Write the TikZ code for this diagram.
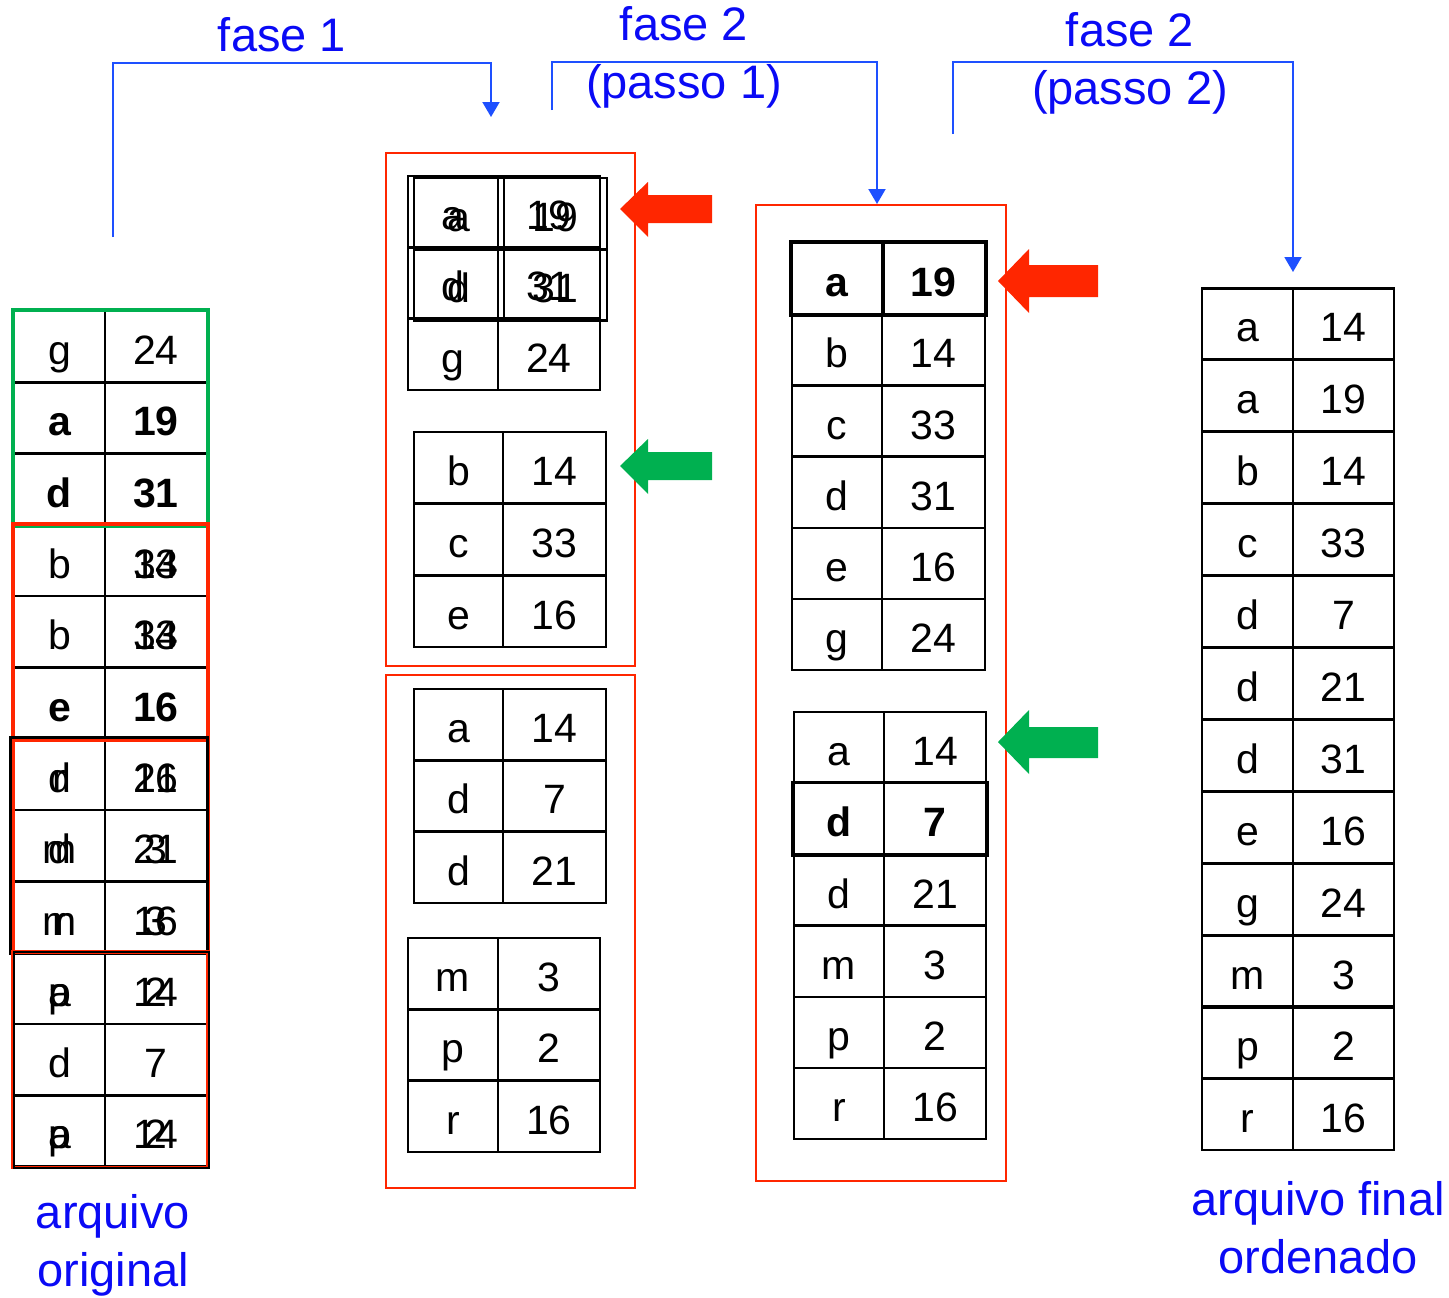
\documentclass[tikz,border=0pt]{standalone}
\usepackage{fontspec}
\setmainfont{Liberation Sans}
\usetikzlibrary{arrows.meta}

\definecolor{azul}{RGB}{30,80,255}
\definecolor{azultxt}{RGB}{10,10,245}
\definecolor{vermelho}{RGB}{255,38,0}
\definecolor{verde}{RGB}{0,176,80}

% two texts printed on top of each other
\newcommand{\dupla}[2]{\makebox[0pt]{#1}\makebox[0pt]{#2}}

\begin{document}
\begin{tikzpicture}[x=1pt, y=-1pt,
    celula/.style={draw, line width=2.2pt, inner sep=0pt, minimum height=71pt,
      text height=36pt, text depth=0pt, font=\fontsize{41}{48}\selectfont},
    fluxo/.style={azul, line width=2pt, -{Triangle[width=17pt,length=15pt]}},
    rotulo/.style={azultxt, align=center, font=\fontsize{47}{58}\selectfont},
    caixa/.style={vermelho, line width=1.6pt}]
  \useasboundingbox (0,0) rectangle (1449,1298);

  % arquivo original
  \foreach \k/\v [count=\i] in {g/24, {\bfseries a}/{\bfseries 19}, {\bfseries d}/{\bfseries 31},
      b/{\dupla{33}{14}}, b/{\dupla{33}{14}}, {\bfseries e}/{\bfseries 16},
      {\dupla{d}{r}}/{\dupla{21}{16}}, {\dupla{m}{d}}/{\dupla{21}{3}}, {\dupla{m}{r}}/{\dupla{16}{3}},
      {\dupla{p}{a}}/{\dupla{2}{14}}, d/7, {\dupla{p}{a}}/{\dupla{2}{14}}} {
    \node[celula, minimum width=91pt] (orig-k\i) at (59.5, {311+71.3*(\i-0.5)}) {\k};
    \node[celula, minimum width=102pt] (orig-v\i) at (156, {311+71.3*(\i-0.5)}) {\v};
  }
  \draw[verde, line width=4pt] (orig-k1.north west) rectangle (orig-v3.south east);
  \draw[vermelho, line width=3.5pt] (orig-k4.north west) rectangle (orig-v6.south east);
  \draw[vermelho, line width=3.5pt] (orig-k7.north west) rectangle (orig-v9.south east);
  \draw[line width=3pt] ([xshift=-2pt]orig-k7.north west) rectangle ([xshift=-1pt]orig-v9.south east);
  \draw[vermelho, line width=3.5pt] (orig-k10.north west) rectangle (orig-v12.south east);
  \draw[line width=2pt] ([xshift=1pt]orig-k10.north west) rectangle ([xshift=1pt]orig-v12.south east);

  % fase 1
  \draw[caixa] (386,153) rectangle (635,666);
  \foreach \k/\v [count=\i] in {a/19, d/31} {
    \node[celula, minimum width=90pt] (p1b-k\i) at (459, {178+71.3*(\i-0.5)}) {\k};
    \node[celula, minimum width=103pt] (p1b-v\i) at (555.5, {178+71.3*(\i-0.5)}) {\v};
  }
  \foreach \k/\v [count=\i] in {a/19, d/31, g/24} {
    \node[celula, minimum width=90pt] (p1a-k\i) at (453, {176+71.3*(\i-0.5)}) {\k};
    \node[celula, minimum width=102pt] (p1a-v\i) at (549, {176+71.3*(\i-0.5)}) {\v};
  }
  \foreach \k/\v [count=\i] in {b/14, c/33, e/16} {
    \node[celula, minimum width=89pt] (p1c-k\i) at (458.5, {432+71.7*(\i-0.5)}) {\k};
    \node[celula, minimum width=103pt] (p1c-v\i) at (554.5, {432+71.7*(\i-0.5)}) {\v};
  }
  \draw[caixa] (386,675) rectangle (635,1188);
  \foreach \k/\v [count=\i] in {a/14, d/7, d/21} {
    \node[celula, minimum width=89pt] (p1d-k\i) at (458.5, {689+71.3*(\i-0.5)}) {\k};
    \node[celula, minimum width=103pt] (p1d-v\i) at (554.5, {689+71.3*(\i-0.5)}) {\v};
  }
  \foreach \k/\v [count=\i] in {m/3, p/2, r/16} {
    \node[celula, minimum width=90pt] (p1e-k\i) at (453, {938+71.3*(\i-0.5)}) {\k};
    \node[celula, minimum width=102pt] (p1e-v\i) at (549, {938+71.3*(\i-0.5)}) {\v};
  }
  \fill[vermelho] (620,209) -- ++(28,-27) -- ++(0,13) -- ++(64,0) -- ++(0,28)
    -- ++(-64,0) -- ++(0,14) -- cycle;
  \fill[verde] (620,466) -- ++(28,-27) -- ++(0,13) -- ++(64,0) -- ++(0,28)
    -- ++(-64,0) -- ++(0,14) -- cycle;

  % fase 2, passo 1
  \draw[caixa] (756,205) rectangle (1006,1181);
  \foreach \k/\v [count=\i] in {{\bfseries a}/{\bfseries 19}, b/14, c/33, d/31, e/16, g/24} {
    \node[celula, minimum width=90pt] (p2a-k\i) at (837, {243+71.2*(\i-0.5)}) {\k};
    \node[celula, minimum width=103pt] (p2a-v\i) at (933.5, {243+71.2*(\i-0.5)}) {\v};
  }
  \draw[line width=3.5pt] (p2a-k1.north west) rectangle (p2a-v1.south east);
  \draw[line width=3.5pt] (p2a-k1.north east) -- (p2a-k1.south east);
  \foreach \k/\v [count=\i] in {a/14, {\bfseries d}/{\bfseries 7}, d/21, m/3, p/2, r/16} {
    \node[celula, minimum width=90pt] (p2b-k\i) at (839, {712+71.2*(\i-0.5)}) {\k};
    \node[celula, minimum width=102pt] (p2b-v\i) at (935, {712+71.2*(\i-0.5)}) {\v};
  }
  \draw[line width=3pt] (p2b-k2.north west) rectangle (p2b-v2.south east);
  \fill[vermelho] (998,281) -- ++(31,-32) -- ++(0,16) -- ++(69,0) -- ++(0,32)
    -- ++(-69,0) -- ++(0,16) -- cycle;
  \fill[verde] (998,742) -- ++(31,-32) -- ++(0,17) -- ++(69,0) -- ++(0,31)
    -- ++(-69,0) -- ++(0,16) -- cycle;

  % arquivo final
  \foreach \k/\v [count=\i] in {a/14, a/19, b/14, c/33, d/7, d/21, d/31, e/16, g/24, m/3, p/2, r/16} {
    \node[celula, minimum width=91pt] (fim-k\i) at (1247.5, {288+71.9*(\i-0.5)}) {\k};
    \node[celula, minimum width=101pt] (fim-v\i) at (1343.5, {288+71.9*(\i-0.5)}) {\v};
  }

  % rotulos
  \node[rotulo] (orig) at (113,1245) {arquivo\\original};
  \node[rotulo] (fim) at (1318,1228) {arquivo final\\ordenado};
  \node[rotulo] (fase1) at (282,35) {fase 1};
  \node[rotulo] (fase2a) at (684,57) {fase 2\\(passo 1)};
  \node[rotulo] (fase2b) at (1130,63) {fase 2\\(passo 2)};

  % setas azuis
  \coordinate (f1a) at (113,237);
  \coordinate (f1c) at (491,63);
  \coordinate (f1b) at (491,117);
  \draw[fluxo] (f1a) |- (f1c) -- (f1b);
  \coordinate (f2a) at (552,110);
  \coordinate (f2c) at (877,62);
  \coordinate (f2b) at (877,204);
  \draw[fluxo] (f2a) |- (f2c) -- (f2b);
  \coordinate (f3a) at (953,134);
  \coordinate (f3c) at (1293,62);
  \coordinate (f3b) at (1293,272);
  \draw[fluxo] (f3a) |- (f3c) -- (f3b);
\end{tikzpicture}
\end{document}
